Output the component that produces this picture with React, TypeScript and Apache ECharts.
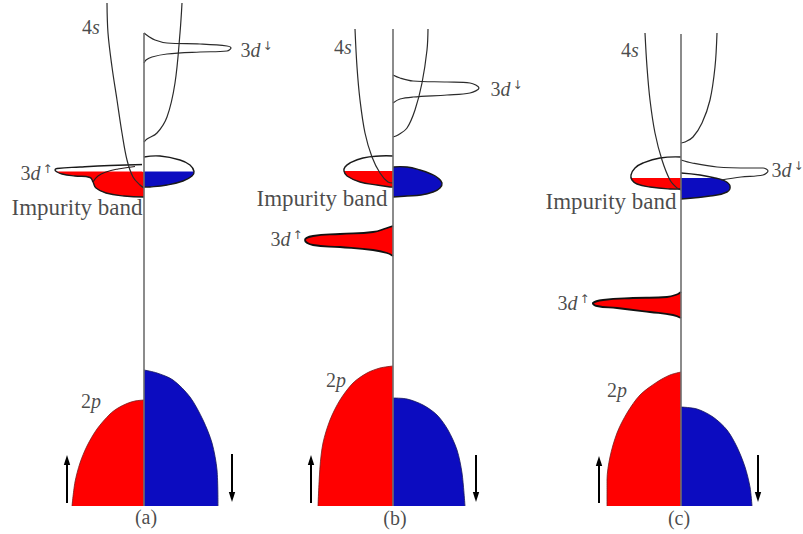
import React, { useEffect, useRef } from 'react';
import * as echarts from 'echarts';

type Pt = [number, number];
type Label = [number, number, string];
type Arrow = [number, number, number];

// Schematic densities of states. E runs upward from the bottom of the 2p band;
// DOS runs to the left of each panel's axis for spin up and to the right for spin down.

// ---------- panel (a)
const a_2pUp: Pt[] = [[0, 106], [-9, 105], [-17, 102.5], [-26, 98], [-34, 92], [-47, 77], [-57, 60], [-64, 43], [-69, 24], [-72, 0]];
const a_2pDown: Pt[] = [[0, 136], [13, 133], [29, 126], [46, 109], [59, 86], [68, 63], [73, 36], [74, 0]];
const a_4sUp: Pt[] = [[-37, 503], [-36, 473], [-32, 439], [-27, 406], [-22, 373], [-17, 346], [-11, 329], [-4, 321], [0, 318]];
const a_4sDown: Pt[] = [[38, 503], [36, 473], [31, 423], [23, 389], [13, 373], [3, 367], [0, 364]];
const a_3dDown: Pt[] = [[0, 473], [4, 470], [11, 466], [23, 463], [56, 462], [83, 460], [87, 458], [83, 455], [56, 454], [23, 452], [8, 449], [2, 446], [0, 443]];
const a_bandUp: Pt[] = [[0, 341.5], [-34, 340.5], [-64, 339], [-87, 337.5], [-89, 336], [-87, 334], [-82, 332], [-69, 330], [-54, 328.5], [-51, 324], [-48, 318], [-38, 313], [-20, 310], [0, 309]];
const a_bandUpEdge: Pt[] = [[-51, 324], [-46, 330], [-38, 334], [-26, 337], [-9, 339.5]];
const a_bandDown: Pt[] = [[0, 349], [16, 350], [36, 346], [46, 341], [50, 334.5], [48, 330], [39, 325], [23, 321], [6, 319], [0, 319]];
const a_fermi = 334.5;
const a_axisTop = 473;
const a_labels: Label[] = [[-53, 479, '4s'], [96, 456, '3d↓'], [-91, 333, '3d↑'], [-1, 299, 'Impurity band'], [-53, 105, '2p'], [2, -11, '(a)']];
const a_arrows: Arrow[] = [[-77, 3, 51], [88, 52, 4]];

// ---------- panel (b)
const b_2pUp: Pt[] = [[0, 140], [-13, 138], [-26, 133], [-40, 123], [-53, 106], [-63, 86], [-70, 63], [-73, 39], [-75, 0]];
const b_2pDown: Pt[] = [[0, 108], [14, 107], [30, 101], [44, 91], [55, 76], [64, 56], [69, 33], [72, 0]];
const b_4sUp: Pt[] = [[-38, 477], [-36, 439], [-33, 406], [-28, 373], [-21, 349], [-13, 333], [-5, 324], [0, 323]];
const b_4sDown: Pt[] = [[35, 477], [34, 456], [29, 423], [22, 396], [14, 378], [5, 371], [0, 369]];
const b_3dDown: Pt[] = [[0, 431], [7, 428], [20, 425], [54, 424], [77, 423], [86, 418], [77, 413], [54, 411], [20, 409], [7, 407], [0, 403]];
const b_bandUp: Pt[] = [[0, 350], [-13, 350], [-30, 348], [-43, 343], [-48, 339], [-49, 335], [-46, 330], [-33, 324], [-16, 321], [-3, 319], [0, 319]];
const b_bandDown: Pt[] = [[0, 339], [14, 339], [27, 336], [38, 332], [45, 328], [49, 323], [47, 318], [40, 314], [28, 311], [14, 310], [0, 309]];
const b_3dUp: Pt[] = [[0, 280], [-6, 278], [-20, 274], [-53, 272], [-80, 270], [-88, 266], [-80, 261], [-53, 259], [-20, 256], [-6, 253], [0, 250]];
const b_fermi = 335;
const b_axisTop = 477;
const b_labels: Label[] = [[-50, 459, '4s'], [97, 417, '3d↓'], [-5, 308, 'Impurity band'], [-90, 267, '3d↑'], [-57, 126, '2p'], [2, -12, '(b)']];
const b_arrows: Arrow[] = [[-82, 3, 51], [83, 51, 4]];

// ---------- panel (c)
const c_2pUp: Pt[] = [[0, 134], [-11, 131], [-24, 124], [-41, 111], [-54, 93], [-64, 73], [-71, 49], [-74, 26], [-74, 0]];
const c_2pDown: Pt[] = [[0, 99], [16, 97], [32, 89], [46, 76], [56, 59], [64, 39], [69, 19], [71, 0]];
const c_4sUp: Pt[] = [[-36, 473], [-34, 439], [-31, 406], [-26, 373], [-19, 346], [-11, 326], [-4, 318], [0, 316]];
const c_4sDown: Pt[] = [[36, 473], [34, 439], [29, 406], [21, 383], [12, 369], [4, 364], [0, 363]];
const c_3dDown: Pt[] = [[0, 346], [11, 343], [36, 339], [70, 338], [82, 338], [87, 335], [82, 331], [60, 329], [40, 326]];
const c_bandUp: Pt[] = [[0, 349], [-21, 348], [-38, 343], [-46, 338], [-50, 331], [-49, 326], [-44, 322], [-31, 319], [-11, 317], [0, 317]];
const c_bandDown: Pt[] = [[0, 333], [19, 331], [34, 328], [44, 325], [49, 320], [46, 314], [29, 310], [12, 308], [0, 307]];
const c_3dUp: Pt[] = [[0, 214], [-3, 212], [-14, 209], [-48, 208], [-78, 206], [-88, 203], [-84, 200], [-64, 198], [-31, 194], [-8, 191], [0, 188]];
const c_fermi = 328;
const c_axisTop = 472;
const c_labels: Label[] = [[-51, 456, '4s'], [90, 336, '3d↓'], [-4, 305, 'Impurity band'], [-91, 203, '3d↑'], [-64, 116, '2p'], [-2, -12, '(c)']];
const c_arrows: Arrow[] = [[-82, 3, 50], [77, 51, 4]];

const RED = '#ff0000';
const BLUE = '#0c0cc0';
const INK = '#1a1a1a';
const SERIF = "'Liberation Serif', 'Times New Roman', 'DejaVu Serif', serif";

interface Panel {
  axisX: number;
  axisTop: number;
  p2Up: Pt[];
  p2Down: Pt[];
  s4Up: Pt[];
  s4Down: Pt[];
  d3Down: Pt[];
  d3Up: Pt[] | null;
  bandUp: Pt[];
  bandUpFermi: number | null;
  bandUpEdges: Pt[][];
  bandDown: Pt[];
  bandDownFermi: number | null;
  labels: Label[];
  arrows: Arrow[];
}

const panels: Panel[] = [
  {
    axisX: 144, axisTop: a_axisTop, p2Up: a_2pUp, p2Down: a_2pDown, s4Up: a_4sUp, s4Down: a_4sDown,
    d3Down: a_3dDown, d3Up: null, bandUp: a_bandUp, bandUpFermi: a_fermi, bandUpEdges: [a_bandUpEdge],
    bandDown: a_bandDown, bandDownFermi: a_fermi, labels: a_labels, arrows: a_arrows,
  },
  {
    axisX: 393, axisTop: b_axisTop, p2Up: b_2pUp, p2Down: b_2pDown, s4Up: b_4sUp, s4Down: b_4sDown,
    d3Down: b_3dDown, d3Up: b_3dUp, bandUp: b_bandUp, bandUpFermi: b_fermi, bandUpEdges: [],
    bandDown: b_bandDown, bandDownFermi: null, labels: b_labels, arrows: b_arrows,
  },
  {
    axisX: 681, axisTop: c_axisTop, p2Up: c_2pUp, p2Down: c_2pDown, s4Up: c_4sUp, s4Down: c_4sDown,
    d3Down: c_3dDown, d3Up: c_3dUp, bandUp: c_bandUp, bandUpFermi: c_fermi, bandUpEdges: [],
    bandDown: c_bandDown, bandDownFermi: c_fermi, labels: c_labels, arrows: c_arrows,
  },
];

const RICH = {
  n: { fontFamily: SERIF, fontSize: 20, color: INK },
  i: { fontFamily: SERIF, fontSize: 20, fontStyle: 'italic', color: INK },
  a: { fontFamily: 'DejaVu Sans', fontSize: 12, color: INK, verticalAlign: 'top', padding: [0, 0, 0, 2] },
  b: { fontFamily: SERIF, fontSize: 23, color: INK },
  p: { fontFamily: SERIF, fontSize: 20, color: INK },
};

function richText(t: string): string {
  if (t === 'Impurity band') return `{b|${t}}`;
  if (t.startsWith('(')) return `{p|${t}}`;
  const arrow = t.length > 2 ? `{a|${t[2]}}` : '';
  return `{n|${t[0]}}{i|${t[1]}}${arrow}`;
}

function anchorOf(t: string): string {
  if (t === 'Impurity band' || t === '3d↑') return 'left';
  if (t === '3d↓') return 'right';
  return 'inside';
}

// contour closed along the axis: filled (split at the Fermi level when given) and/or outlined
function shapeSeries(i: number, pts: Pt[], fill: string | null, fermi: number | null, stroke: string | null, lineWidth: number, z: number) {
  return {
    type: 'custom',
    xAxisIndex: i,
    yAxisIndex: i,
    silent: true,
    z,
    data: pts,
    renderItem: (params: any, api: any) => {
      if (params.dataIndex !== 0) return null;
      const px = pts.map((p) => api.coord(p));
      const children: any[] = [];
      if (fill) {
        children.push({ type: 'polyline', shape: { points: px, smooth: 0.45 }, style: { fill, stroke: null } });
      }
      if (fill && fermi != null) {
        const xs = px.map((p: number[]) => p[0]);
        const ys = px.map((p: number[]) => p[1]);
        const yF = api.coord([0, fermi])[1];
        const top = Math.min(...ys) - 3;
        const x0 = Math.min(...xs) - 2;
        const x1 = Math.max(...xs) + 2;
        children.push({ type: 'rect', shape: { x: x0, y: top, width: x1 - x0, height: yF - top }, style: { fill: '#ffffff' } });
      }
      if (stroke) {
        children.push({ type: 'polyline', shape: { points: px, smooth: 0.45 }, style: { fill: null, stroke, lineWidth } });
      }
      return { type: 'group', children };
    },
  };
}

function curveSeries(i: number, pts: Pt[], color: string, width: number) {
  return {
    type: 'line',
    xAxisIndex: i,
    yAxisIndex: i,
    data: pts,
    smooth: 0.35,
    showSymbol: false,
    silent: true,
    z: 6,
    lineStyle: { color, width },
  };
}

function bandSeries(i: number, pts: Pt[], color: string, edge: string) {
  return {
    type: 'line',
    xAxisIndex: i,
    yAxisIndex: i,
    data: pts,
    smooth: 0.3,
    showSymbol: false,
    silent: true,
    z: 1,
    lineStyle: { color: edge, width: 0.8 },
    areaStyle: { color, opacity: 1 },
  };
}

function buildOption() {
  const grid: any[] = [];
  const xAxis: any[] = [];
  const yAxis: any[] = [];
  const series: any[] = [];

  panels.forEach((pn, i) => {
    grid.push({ left: pn.axisX - 100, width: 200, top: 0, height: 534 });
    xAxis.push({ gridIndex: i, type: 'value', min: -100, max: 100, show: false });
    yAxis.push({ gridIndex: i, type: 'value', min: -28, max: 506, show: false });

    // 2p band, spin up (red) and spin down (blue)
    series.push(bandSeries(i, pn.p2Up, RED, '#7a1a1a'));
    series.push(bandSeries(i, pn.p2Down, BLUE, '#14145a'));

    // impurity band: occupied part filled, empty part left white
    series.push(shapeSeries(i, pn.bandUp, RED, pn.bandUpFermi, '#1a1a1a', 1.4, 3));
    series.push(shapeSeries(i, pn.bandDown, BLUE, pn.bandDownFermi, '#1a1a1a', 1.4, 3));
    pn.bandUpEdges.forEach((edge) => series.push(shapeSeries(i, edge, null, null, '#2a1a1a', 1.1, 4)));

    // localized 3d spin-up level below the band
    if (pn.d3Up) series.push(shapeSeries(i, pn.d3Up, RED, null, '#111111', 1.8, 3));

    // 3d spin-down peak and 4s band
    series.push(curveSeries(i, pn.d3Down, '#2b2b2b', 1.2));
    series.push(curveSeries(i, pn.s4Up, '#2b2b2b', 1.2));
    series.push(curveSeries(i, pn.s4Down, '#2b2b2b', 1.2));

    // vertical energy axis
    series.push({
      type: 'line', xAxisIndex: i, yAxisIndex: i, data: [[0, 0], [0, pn.axisTop]], showSymbol: false, silent: true, z: 7,
      lineStyle: { color: '#6e6e6e', width: 1.6 },
    });

    // spin arrows beside the 2p band
    series.push({
      type: 'custom', xAxisIndex: i, yAxisIndex: i, silent: true, z: 8,
      data: pn.arrows,
      renderItem: (params: any, api: any) => {
        const p0 = api.coord([api.value(0), api.value(1)]);
        const p1 = api.coord([api.value(0), api.value(2)]);
        const dir = p1[1] > p0[1] ? 1 : -1;
        const head = 10;
        const half = 3.2;
        return {
          type: 'group',
          children: [
            { type: 'line', shape: { x1: p0[0], y1: p0[1], x2: p1[0], y2: p1[1] - dir * (head - 1) }, style: { stroke: '#000', lineWidth: 2 } },
            { type: 'polygon', shape: { points: [[p1[0], p1[1]], [p1[0] - half, p1[1] - dir * head], [p1[0] + half, p1[1] - dir * head]] }, style: { fill: '#000' } },
          ],
        };
      },
    });

    // text labels
    series.push({
      type: 'scatter', xAxisIndex: i, yAxisIndex: i, symbolSize: 1, silent: true, z: 10,
      itemStyle: { color: 'rgba(0,0,0,0)' },
      label: { fontFamily: SERIF, color: INK },
      data: pn.labels.map(([x, e, t]) => ({
        value: [x, e],
        label: { show: true, position: anchorOf(t), distance: 0, fontFamily: SERIF, formatter: richText(t), rich: RICH },
      })),
    });
  });

  return { animation: false, backgroundColor: '#ffffff', textStyle: { fontFamily: SERIF }, grid, xAxis, yAxis, series };
}

export default function App() {
  const ref = useRef<HTMLDivElement>(null);
  useEffect(() => {
    const chart = echarts.init(ref.current!, null, { renderer: 'svg' });
    chart.setOption(buildOption() as any);
    return () => chart.dispose();
  }, []);
  return <div ref={ref} style={{ position: 'fixed', left: 0, top: 0, width: 803, height: 534, background: '#fff' }} />;
}
